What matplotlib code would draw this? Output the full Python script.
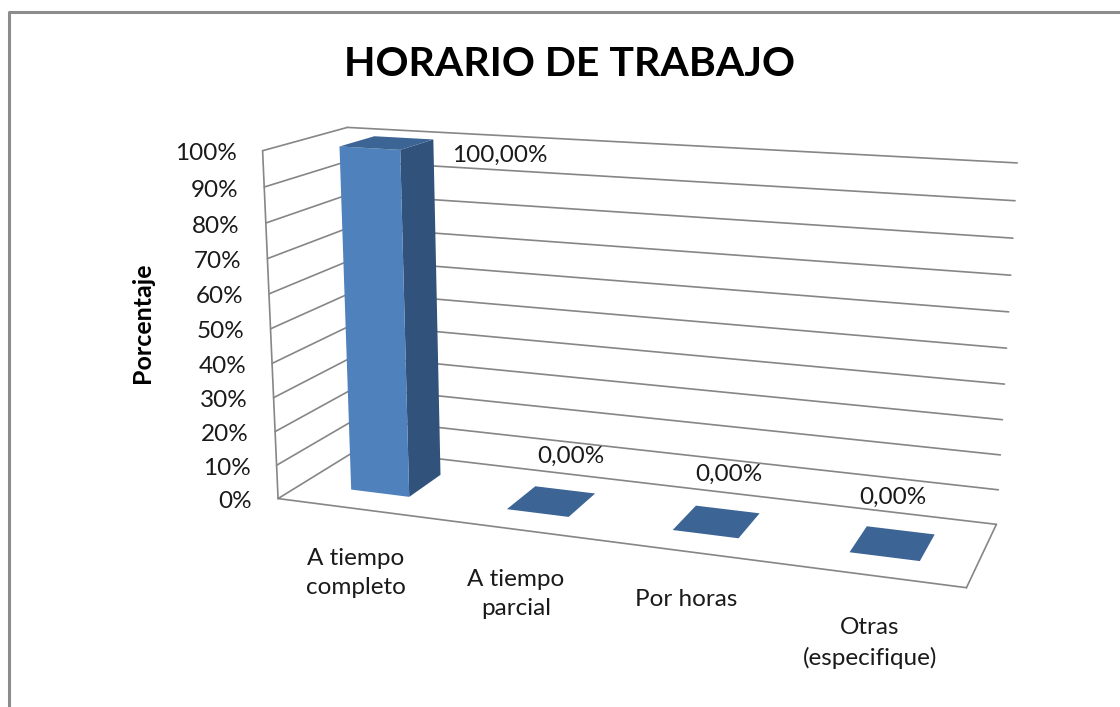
import matplotlib
matplotlib.use("Agg")
import matplotlib.pyplot as plt
import numpy as np

plt.rcParams["font.family"] = ["Lato", "DejaVu Sans"]

# Data
title = "HORARIO DE TRABAJO"
y_title = "Porcentaje"
categories = ["A tiempo\ncompleto", "A tiempo\nparcial", "Por horas", "Otras\n(especifique)"]
values = [100.0, 0.0, 0.0, 0.0]
value_labels = ["100,00%", "0,00%", "0,00%", "0,00%"]
y_ticks = [0, 10, 20, 30, 40, 50, 60, 70, 80, 90, 100]

# Layout of the fake 3D box, (x, depth, height) -> pixel
box_corners = {
    (0, 0, 0): (280, 499),
    (1, 0, 0): (966, 588),
    (0, 1, 0): (356, 449),
    (1, 1, 0): (997, 524),
    (0, 0, 1): (261, 150),
    (0, 1, 1): (349, 128),
    (1, 1, 1): (1017, 163),
}
bar_width = 0.38
bar_shift = 0.015
bar_depth = (0.29, 0.72)
category_label_pos = [(356, 573), (516, 594), (686, 600), (870, 643)]
value_label_pos = [(500, 155), (571, 456), (729, 474), (893, 497)]

face_color = "#4f81bd"
side_color = "#31527b"
top_color = "#3c6494"
grid_color = "#868686"


def fit_projection(corners):
    rows, rhs = [], []
    for (x, d, h), (u, v) in corners.items():
        rows.append([x, d, h, 1, 0, 0, 0, 0, -u * x, -u * d, -u * h])
        rhs.append(u)
        rows.append([0, 0, 0, 0, x, d, h, 1, -v * x, -v * d, -v * h])
        rhs.append(v)
    m = np.linalg.lstsq(np.array(rows, float), np.array(rhs, float), rcond=None)[0]
    return np.append(m, 1).reshape(3, 4)


P = fit_projection(box_corners)


def project(x, d, h):
    u, v, w = P @ np.array([x, d, h, 1.0])
    return u / w, v / w


def draw_line(ax, a, b):
    pa, pb = project(*a), project(*b)
    ax.plot([pa[0], pb[0]], [pa[1], pb[1]], color=grid_color, lw=1.2, zorder=1,
            solid_capstyle="round")


def draw_face(ax, points, color):
    ax.fill(*zip(*[project(*p) for p in points]), color=color, lw=0, zorder=3)


def main():
    fig = plt.figure(figsize=(11.2, 7.07), dpi=100)
    ax = fig.add_axes([0, 0, 1, 1])
    ax.set_xlim(0, 1120)
    ax.set_ylim(707, 0)
    ax.axis("off")

    # Chart area border (only top and left are in the crop)
    ax.plot([8.5, 8.5, 1120], [707, 11.5, 11.5], color="#8c8c8c", lw=2.2, zorder=1)

    # Walls and floor
    for t in y_ticks:
        h = t / 100
        draw_line(ax, (0, 0, h), (0, 1, h))
        draw_line(ax, (0, 1, h), (1, 1, h))
    draw_line(ax, (0, 0, 0), (0, 0, 1))
    draw_line(ax, (0, 0, 0), (1, 0, 0))
    draw_line(ax, (1, 0, 0), (1, 1, 0))

    # Bars
    for i, v in enumerate(values):
        x0 = (i + 0.5 + bar_shift - bar_width / 2) / len(values)
        x1 = (i + 0.5 + bar_shift + bar_width / 2) / len(values)
        d0, d1 = bar_depth
        h = v / 100
        if h > 0:
            draw_face(ax, [(x1, d0, 0), (x1, d1, 0), (x1, d1, h), (x1, d0, h)], side_color)
            draw_face(ax, [(x0, d0, 0), (x1, d0, 0), (x1, d0, h), (x0, d0, h)], face_color)
        draw_face(ax, [(x0, d0, h), (x1, d0, h), (x1, d1, h), (x0, d1, h)], top_color)

    # Text
    ax.text(570, 64, title, ha="center", va="center", fontsize=29.5, fontweight="bold",
            color="black")
    ax.text(143, 323, y_title, rotation=90, ha="center", va="center", fontsize=18,
            fontweight="bold", color="black")
    for t in y_ticks:
        u, v = project(0, 0, t / 100)
        ax.text(u - 26, v + 3, f"{t}%", ha="right", va="center", fontsize=17.5, color="#1a1a1a")
    for label, (u, v) in zip(categories, category_label_pos):
        ax.text(u, v, label, ha="center", va="center", fontsize=17.5, linespacing=1.5,
                color="#1a1a1a")
    for label, (u, v) in zip(value_labels, value_label_pos):
        ax.text(u, v, label, ha="center", va="center", fontsize=17.5, color="#1a1a1a")

    fig.savefig("out.png", dpi=100)


if __name__ == "__main__":
    main()
